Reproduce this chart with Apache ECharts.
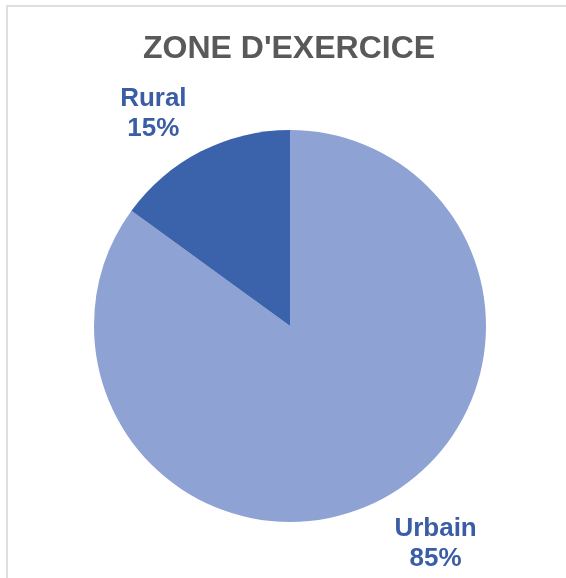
<!DOCTYPE html>
<html>
<head>
<meta charset="utf-8">
<script src="https://cdn.jsdelivr.net/npm/echarts@6/dist/echarts.min.js"></script>
<style>
  html, body { margin: 0; padding: 0; background: #fff; }
  #frame {
    position: absolute; left: 6px; top: 5px; width: 560px; height: 573px;
    border-top: 2px solid #dedede; border-left: 2px solid #dedede;
  }
  #chart { position: absolute; left: 0; top: 0; width: 566px; height: 578px; }
</style>
</head>
<body>
<div id="frame"></div>
<div id="chart"></div>
<script>
const titleText = "ZONE D'EXERCICE"
const categories = ['Urbain', 'Rural']
const shares = [85, 15]
const colors = ['#8FA2D4', '#3B63AC']

const chart = echarts.init(document.getElementById('chart'))

const option = {
  animation: false,
  title: {
    text: titleText,
    left: 138,
    top: 28,
    textStyle: {
      fontFamily: 'Liberation Sans',
      fontSize: 32,
      fontWeight: 'bold',
      color: '#595959'
    }
  },
  series: [
    {
      type: 'pie',
      center: [290, 326],
      radius: 196,
      startAngle: 90,
      clockwise: true,
      data: categories.map((name, i) => ({
        name: name,
        value: shares[i],
        itemStyle: { color: colors[i] }
      })),
      label: {
        position: 'outside',
        formatter: '{b}\n{d}%',
        fontFamily: 'Liberation Sans',
        fontSize: 26,
        fontWeight: 'bold',
        lineHeight: 30,
        color: '#3A5DA5'
      },
      labelLine: { show: false, length: 45, length2: 0 },
      labelLayout: function (p) {
        const cx = p.labelRect.x + p.labelRect.width / 2
        // pull labels slightly toward the pie, like the original
        const shift = cx < 290 ? 11 : -10
        return {
          x: cx + shift,
          y: p.labelRect.y + p.labelRect.height / 2 + 3,
          align: 'center',
          verticalAlign: 'middle'
        }
      }
    }
  ]
}

chart.setOption(option)
</script>
</body>
</html>
